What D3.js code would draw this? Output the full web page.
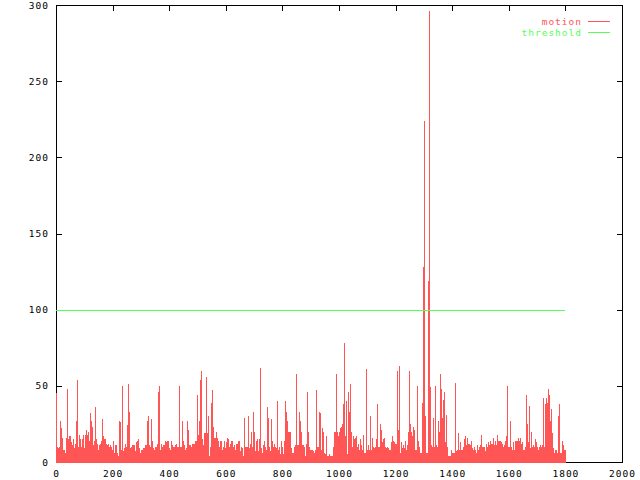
<!DOCTYPE html>
<html><head><meta charset="utf-8">
<script src="https://cdn.jsdelivr.net/npm/d3@7"></script>
<style>html,body{margin:0;padding:0;background:#fff;}svg{display:block;}text{font-family:"DejaVu Sans Mono",monospace;font-size:9.5px;letter-spacing:1px;}</style>
</head><body><svg id="c" width="640" height="480"></svg>
<script>
// motion value per sampled frame (frames 0..1800)
const motion = [
45,10,9,10,27,22,16,8,8,6,
16,48,15,17,17,13,11,15,9,12,
27,54,10,18,15,10,15,18,9,18,
21,18,20,14,32,27,23,11,14,36,
15,12,8,11,12,14,28,17,15,15,
12,11,12,10,11,10,8,14,6,11,
11,6,4,27,26,8,50,7,9,12,
10,24,51,33,9,10,11,11,11,7,
13,14,15,9,6,8,8,9,9,11,
11,27,30,11,10,28,14,9,8,10,
10,12,46,50,8,12,10,11,11,14,
13,14,14,9,8,14,11,10,10,11,
12,10,10,50,10,10,27,14,11,8,
9,27,21,11,11,10,12,12,12,14,
14,44,18,27,54,60,15,11,19,19,
56,19,30,4,10,39,47,23,16,16,
20,16,14,10,14,14,8,10,14,9,
13,16,15,10,12,14,14,10,11,8,
12,12,14,14,7,10,9,4,29,10,
10,10,30,9,12,20,10,33,20,7,
14,15,7,15,62,9,6,11,14,10,
8,36,29,10,7,28,14,10,12,10,
9,40,8,10,5,14,10,5,14,40,
33,27,20,20,20,9,6,6,10,11,
58,11,11,33,27,20,11,11,10,4,
12,46,20,10,8,8,8,7,6,8,
47,10,10,33,32,8,22,20,6,5,
17,4,4,5,4,4,4,10,20,20,
58,20,17,20,22,23,25,38,78,17,
40,5,46,33,51,20,10,17,15,16,
17,10,12,8,15,11,8,18,6,6,
61,8,11,8,30,8,16,10,9,10,
15,38,10,10,25,21,13,15,16,10,
9,10,9,8,8,13,17,14,13,12,
12,60,21,63,6,13,9,11,9,14,
8,11,20,60,25,20,17,23,21,8,
8,50,14,10,6,6,39,128,224,30,
6,6,119,296,49,11,10,29,10,50,
11,10,27,20,58,48,29,41,46,13,
31,10,4,4,4,8,6,6,6,52,
7,8,19,8,13,8,8,10,15,17,
11,16,12,12,11,14,9,8,10,8,
6,11,8,10,11,18,10,10,10,7,
12,10,13,11,14,12,12,16,11,14,
11,18,14,14,14,13,12,10,11,14,
17,50,10,10,27,10,8,13,8,14,
14,14,16,14,16,12,13,8,8,10,
44,25,13,37,9,20,10,11,10,15,
13,10,8,10,11,10,11,42,10,38,
42,39,48,44,27,35,19,9,6,8,
8,6,30,38,6,6,14,11,8,8
];
const lastFrame = 1800;
const frames = motion.map((_, i) => i * lastFrame / (motion.length - 1));
const threshold = 100;
const xTicks = [0,200,400,600,800,1000,1200,1400,1600,1800,2000];
const yTicks = [0,50,100,150,200,250,300];
const seriesNames = ["motion", "threshold"];
const seriesColors = ["#ff5555", "#55ff55"];

const svg = d3.select("#c");
const L = 56, R = 622, T = 5, B = 462;
const x = d3.scaleLinear().domain([0, 2000]).range([L, R]);
const y = d3.scaleLinear().domain([0, 300]).range([B, T]);
const tl = 6;

// border
svg.append("rect").attr("x", L + 0.5).attr("y", T + 0.5).attr("width", R - L).attr("height", B - T)
  .attr("fill", "none").attr("stroke", "#000").attr("stroke-width", 1).attr("shape-rendering", "crispEdges");

// ticks (inward, mirrored)
const tg = svg.append("g").attr("stroke", "#000").attr("stroke-width", 1).attr("shape-rendering", "crispEdges");
yTicks.forEach(v => {
  const yy = Math.round(y(v)) + 0.5;
  tg.append("line").attr("x1", L).attr("x2", L + tl).attr("y1", yy).attr("y2", yy);
  tg.append("line").attr("x1", R + 1).attr("x2", R + 1 - tl).attr("y1", yy).attr("y2", yy);
});
xTicks.forEach(v => {
  const xx = Math.round(x(v)) + 0.5;
  tg.append("line").attr("x1", xx).attr("x2", xx).attr("y1", B + 1).attr("y2", B + 1 - tl);
  tg.append("line").attr("x1", xx).attr("x2", xx).attr("y1", T).attr("y2", T + tl);
});

// tick labels
svg.append("g").selectAll("text").data(yTicks).join("text")
  .attr("x", 49).attr("y", d => y(d) + 3.5).attr("text-anchor", "end").text(d => d);
svg.append("g").selectAll("text").data(xTicks).join("text")
  .attr("x", d => x(d) + 0.5).attr("y", 477).attr("text-anchor", "middle").text(d => d);

// motion impulses
svg.append("g").attr("stroke", seriesColors[0]).attr("stroke-width", 1).attr("shape-rendering", "crispEdges")
  .selectAll("line").data(motion).join("line")
  .attr("x1", (d, i) => Math.round(x(frames[i])) + 0.5)
  .attr("x2", (d, i) => Math.round(x(frames[i])) + 0.5)
  .attr("y1", y(0) + 1)
  .attr("y2", d => Math.round(y(d)));

// threshold line
svg.append("line").attr("x1", x(0)).attr("x2", x(lastFrame))
  .attr("y1", Math.round(y(threshold)) + 0.5).attr("y2", Math.round(y(threshold)) + 0.5)
  .attr("stroke", seriesColors[1]).attr("stroke-width", 1).attr("shape-rendering", "crispEdges");

// legend
const lg = svg.append("g");
seriesNames.forEach((n, i) => {
  const yy = 21.5 + i * 11;
  lg.append("text").attr("x", 582).attr("y", yy + 3.5).attr("text-anchor", "end")
    .attr("fill", seriesColors[i]).text(n);
  lg.append("line").attr("x1", 588).attr("x2", 610).attr("y1", yy).attr("y2", yy)
    .attr("stroke", seriesColors[i]).attr("stroke-width", 1).attr("shape-rendering", "crispEdges");
});
</script></body></html>
